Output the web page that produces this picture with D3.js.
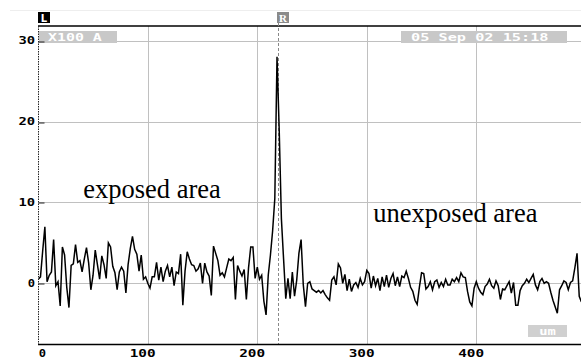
<!DOCTYPE html>
<html>
<head>
<meta charset="utf-8">
<script src="https://cdn.jsdelivr.net/npm/d3@7/dist/d3.min.js"></script>
<style>
  html, body { margin: 0; padding: 0; background: #fff; }
  svg { display: block; }
</style>
</head>
<body>
<script>
// ---- data ----
const xTicks = [0, 100, 200, 300, 400];
const yTicks = [0, 10, 20, 30];
const stepUm = 2;          // sample spacing along the profile (um)
const signal = [
  // 0 .. 224 um (exposed area + peak)
  0.5, 0.8, 4.0, 7.0, 0.2, 1.0, 1.4, 5.4, -0.3, 0.2,
  -2.8, 4.5, 3.5, -0.5, -3.0, 2.2, 2.4, 4.8, 2.6, 2.8,
  1.4, 3.0, 4.4, 2.5, -0.8, 1.0, 4.1, 2.3, 0.5, 3.4,
  2.3, 0.6, 5.0, 4.5, 2.1, 1.3, -0.8, 1.4, 2.0, 1.5,
  -1.2, 2.3, 4.3, 5.8, 4.2, 3.6, 1.5, 3.5, 0.5, 0.8,
  0.0, -0.6, 0.8, 0.8, 2.6, 0.4, 2.0, 0.2, 1.5, 2.2,
  0.8, 2.0, -0.3, 1.4, 1.2, 3.6, -2.7, 1.5, 3.9, 3.0,
  2.3, 2.2, 1.5, 1.8, 2.5, 0.0, 2.5, 1.4, 0.9, -1.5,
  4.6, 3.7, 2.8, 1.0, 1.3, 0.8, 1.9, 3.0, 2.8, 3.2,
  -2.0, 2.2, 1.5, 0.9, 1.7, -2.0, 1.9, 4.5, 4.5, 0.6,
  2.0, 0.5, 1.0, -2.2, -3.9, 1.0, 3.5, 6.5, 10.5, 28.0,
  19.0, 8.0, 3.0,
  // 226 .. 496 um (unexposed area)
  -1.9, 0.6, -1.9, 1.4, -1.6, 0.4, 3.7, 5.4, -0.2, -2.9,
  0.0, 0.2, -0.7, -0.9, -1.1, -0.9, -1.2, -0.9, -1.4, -1.8,
  -2.1, 0.4, 0.8, -0.2, 2.4, 1.9, 0.0, 1.1, -0.9, 0.5,
  -1.0, -0.2, 0.1, -0.5, 0.6, -0.2, 0.2, 1.6, 1.2, -0.6,
  0.9, -0.3, 0.6, -0.9, 0.8, -0.4, 1.0, -0.5, 0.6, 1.2,
  -0.3, 0.8, -0.4, 0.9, 0.7, 1.5, 0.6, -0.5, -1.0, -2.1,
  -2.6, -0.5, 1.3, 1.2, -0.7, -0.4, 0.2, -0.8, 0.2, 0.4,
  -0.5, 0.1, -0.4, 0.5, -0.2, -0.2, 0.5, 0.2, 0.7, 0.2,
  1.3, 0.8, 0.7, -1.0, -2.3, -2.8, -0.6, 0.2, -0.6, -1.1,
  -1.4, -0.4, -0.1, 0.5, -0.3, -0.6, 0.3, -0.3, -2.0, -0.7,
  -0.8, -0.3, 0.2, -1.2, 0.1, -2.7, -2.7, -0.9, -0.3, 0.0,
  0.5, 0.1, 0.6, 1.1, -0.2, -0.8, 0.2, 0.6, 0.0, 0.2,
  0.0, -1.1, -2.1, -2.9, -3.7, -0.8, -0.3, 0.3, 0.1, -0.8,
  0.1, 0.3, 1.9, 3.7, -1.6, -2.3
];
const cursorUm = 219;
const leftBoxText = "X100 A";
const dateText = "05 Sep 02 15:18";
const unitText = "um";
const annotations = [
  { text: "exposed area", x: 41, v: 10.5 },
  { text: "unexposed area", x: 306, v: 7.6 }
];

// ---- layout ----
const W = 581, H = 358;
const svg = d3.select("body").append("svg").attr("width", W).attr("height", H);

const x = d3.scaleLinear().domain([0, 400]).range([38.3, 476.3]);
const y = d3.scaleLinear().domain([0, 30]).range([283.3, 40.7]);
const plotTop = 26, plotBottom = 344.5, plotLeft = 38.5, plotRight = W;

const mono = "'DejaVu Sans Mono', 'Liberation Mono', monospace";

function pixText(g, str, px, py, anchor, fill) {
  const len = str.length * 9.3 - 2;
  return g.append("text")
    .attr("x", px).attr("y", py)
    .attr("text-anchor", anchor)
    .attr("font-family", mono).attr("font-weight", "bold")
    .attr("font-size", 10)
    .attr("textLength", len).attr("lengthAdjust", "spacingAndGlyphs")
    .attr("fill", fill)
    .text(str);
}

// faint separator
svg.append("line").attr("x1", 10).attr("x2", W).attr("y1", 10.5).attr("y2", 10.5)
  .attr("stroke", "#eeeeee").attr("stroke-width", 1);

// grid
const grid = svg.append("g").attr("stroke", "#c0c0c0").attr("stroke-width", 1);
grid.selectAll("line.v").data(xTicks.filter(d => d > 0)).join("line")
  .attr("x1", d => Math.round(x(d)) + 0.5).attr("x2", d => Math.round(x(d)) + 0.5)
  .attr("y1", plotTop).attr("y2", plotBottom);
grid.selectAll("line.h").data(yTicks).join("line")
  .attr("x1", plotLeft).attr("x2", plotRight)
  .attr("y1", d => Math.round(y(d)) + 0.5).attr("y2", d => Math.round(y(d)) + 0.5);

// top frame line
svg.append("line").attr("x1", 38).attr("x2", W).attr("y1", plotTop).attr("y2", plotTop)
  .attr("stroke", "#000").attr("stroke-width", 1.6);

// gray info boxes
svg.append("rect").attr("x", 39).attr("y", 31).attr("width", 78).attr("height", 12).attr("fill", "#c8c8c8");
pixText(svg, leftBoxText, 48, 40.5, "start", "#fff");
svg.append("rect").attr("x", 401).attr("y", 31).attr("width", 166).attr("height", 12).attr("fill", "#c8c8c8");
pixText(svg, dateText, 411, 40.5, "start", "#fff");
svg.append("rect").attr("x", 528).attr("y", 325).attr("width", 39).attr("height", 12).attr("fill", "#d0d0d0");
pixText(svg, unitText, 547.5, 334.5, "middle", "#fff");

// cursor line
svg.append("line")
  .attr("x1", Math.round(x(cursorUm)) + 0.5).attr("x2", Math.round(x(cursorUm)) + 0.5)
  .attr("y1", 23).attr("y2", plotBottom)
  .attr("stroke", "#888").attr("stroke-width", 1).attr("stroke-dasharray", "3,2");

// L and R markers
svg.append("rect").attr("x", 38).attr("y", 12).attr("width", 12).attr("height", 11).attr("fill", "#000");
svg.append("text").attr("x", 44).attr("y", 21.5).attr("text-anchor", "middle")
  .attr("font-family", "'DejaVu Sans', sans-serif").attr("font-weight", "bold").attr("font-size", 10)
  .attr("fill", "#fff").text("L");
svg.append("rect").attr("x", Math.round(x(cursorUm)) - 1).attr("y", 12).attr("width", 12).attr("height", 11).attr("fill", "#8a8a8a");
svg.append("text").attr("x", Math.round(x(cursorUm)) + 5).attr("y", 21.5).attr("text-anchor", "middle")
  .attr("font-family", "'Liberation Serif', serif").attr("font-weight", "bold").attr("font-size", 11)
  .attr("fill", "#fff").text("R");

// trace
const data = signal.map((v, i) => ({ d: i * stepUm, v }));
svg.append("defs").append("clipPath").attr("id", "plotclip")
  .append("rect").attr("x", plotLeft).attr("y", plotTop)
  .attr("width", plotRight - plotLeft).attr("height", plotBottom - plotTop);
svg.append("path")
  .datum(data)
  .attr("clip-path", "url(#plotclip)")
  .attr("fill", "none").attr("stroke", "#000").attr("stroke-width", 1.5)
  .attr("stroke-linejoin", "miter")
  .attr("d", d3.line().x(p => x(p.d)).y(p => y(p.v)));

// left axis (dotted) and y ticks
svg.append("line").attr("x1", plotLeft).attr("x2", plotLeft).attr("y1", plotTop).attr("y2", plotBottom)
  .attr("stroke", "#222").attr("stroke-width", 1).attr("stroke-dasharray", "1.5,1");
svg.selectAll("line.ytick").data(yTicks).join("line")
  .attr("x1", plotLeft).attr("x2", plotLeft + 6)
  .attr("y1", d => Math.round(y(d)) + 1).attr("y2", d => Math.round(y(d)) + 1)
  .attr("stroke", "#222").attr("stroke-width", 1);
const yl = svg.append("g");
yTicks.forEach(t => pixText(yl, String(t), 35, y(t) + 3.6, "end", "#000"));

// bottom axis
svg.append("line").attr("x1", 38).attr("x2", W).attr("y1", plotBottom).attr("y2", plotBottom)
  .attr("stroke", "#000").attr("stroke-width", 1.6);
const xl = svg.append("g");
xTicks.forEach(t => pixText(xl, String(t), x(t) + 7.8, 357, "end", "#000"));

// annotations
svg.selectAll("text.ann").data(annotations).join("text")
  .attr("x", a => x(a.x)).attr("y", a => y(a.v))
  .attr("font-family", "'Liberation Serif', 'Times New Roman', serif")
  .attr("font-size", 26.5).attr("fill", "#000")
  .text(a => a.text);
</script>
</body>
</html>
